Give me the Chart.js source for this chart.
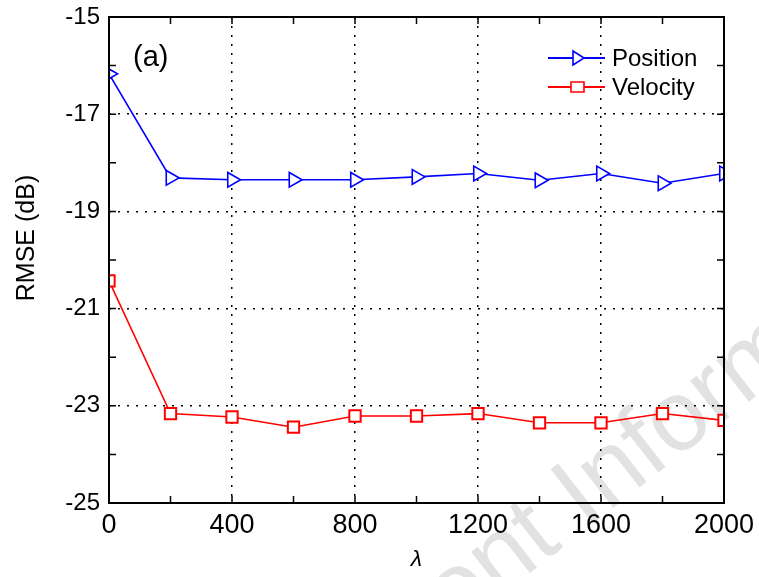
<!DOCTYPE html>
<html>
<head>
<meta charset="utf-8">
<script src="https://cdn.jsdelivr.net/npm/chart.js@4"></script>
<style>
  html, body { margin: 0; padding: 0; background: #fff; }
  #wrap { width: 759px; height: 577px; position: relative; }
</style>
</head>
<body>
<div id="wrap"><canvas id="rmse-chart"></canvas></div>
<script>
const lambdas = [0, 200, 400, 600, 800, 1000, 1200, 1400, 1600, 1800, 2000];
const positionRmse = [-16.17, -18.31, -18.35, -18.35, -18.35, -18.29, -18.22, -18.36, -18.22, -18.42, -18.22];
const velocityRmse = [-20.43, -23.16, -23.23, -23.44, -23.21, -23.21, -23.16, -23.35, -23.35, -23.16, -23.30];
const xTicks = [0, 400, 800, 1200, 1600, 2000];
const yTicks = [-25, -23, -21, -19, -17, -15];
const seriesNames = ["Position", "Velocity"];

const FONT = "'Liberation Sans', Arial, sans-serif";

// faint watermark behind everything
const watermarkPlugin = {
  id: "watermark",
  beforeDraw(chart) {
    const ctx = chart.ctx;
    ctx.save();
    ctx.translate(380, 690);
    ctx.rotate(-38 * Math.PI / 180);
    ctx.font = "100px " + FONT;
    ctx.fillStyle = "#e2e2e2";
    ctx.fillText("Front Inform", 0, 0);
    ctx.restore();
  }
};

// box frame, inward ticks (major + minor), axis title, legend and panel tag
const framePlugin = {
  id: "frame",
  afterDraw(chart) {
    const { ctx, chartArea: a, scales: { x, y } } = chart;
    ctx.save();
    ctx.strokeStyle = "#000";
    ctx.lineWidth = 2;
    ctx.strokeRect(a.left, a.top, a.right - a.left, a.bottom - a.top);

    ctx.lineWidth = 1.5;
    ctx.beginPath();
    for (let v = 0; v <= 2000; v += 200) {
      const px = x.getPixelForValue(v);
      ctx.moveTo(px, a.bottom); ctx.lineTo(px, a.bottom - 7);
      ctx.moveTo(px, a.top); ctx.lineTo(px, a.top + 7);
    }
    for (let v = -25; v <= -15; v += 1) {
      const py = y.getPixelForValue(v);
      ctx.moveTo(a.left, py); ctx.lineTo(a.left + 7, py);
      ctx.moveTo(a.right, py); ctx.lineTo(a.right - 7, py);
    }
    ctx.stroke();

    ctx.fillStyle = "#000";
    ctx.textBaseline = "middle";

    // y axis title
    ctx.save();
    ctx.translate(27, 238);
    ctx.rotate(-Math.PI / 2);
    ctx.textAlign = "center";
    ctx.font = "25px " + FONT;
    ctx.fillText("RMSE (dB)", 0, 0);
    ctx.restore();

    // panel tag
    ctx.textAlign = "left";
    ctx.font = "29px " + FONT;
    ctx.fillText("(a)", 133, 58);

    // legend
    const ds = chart.data.datasets;
    const rows = [58, 87];
    ctx.font = "24px " + FONT;
    rows.forEach((ly, i) => {
      const d = ds[i];
      ctx.strokeStyle = d.borderColor;
      ctx.lineWidth = 2;
      ctx.beginPath();
      ctx.moveTo(548, ly); ctx.lineTo(605, ly);
      ctx.stroke();
      ctx.lineWidth = 1.6;
      ctx.beginPath();
      ctx.fillStyle = "#fff";
      if (i === 0) {
        ctx.moveTo(573, ly - 7); ctx.lineTo(584, ly); ctx.lineTo(573, ly + 7); ctx.closePath();
        ctx.fill();
      } else {
        ctx.fillRect(571, ly - 5, 13, 10);
        ctx.rect(571, ly - 5, 13, 10);
      }
      ctx.stroke();
      ctx.fillStyle = "#000";
      ctx.fillText(seriesNames[i], 612, ly + 1);
    });
    ctx.restore();
  }
};

new Chart(document.getElementById("rmse-chart"), {
  type: "line",
  data: {
    datasets: [
      {
        label: seriesNames[0],
        data: lambdas.map((l, i) => ({ x: l, y: positionRmse[i] })),
        borderColor: "#0000ff",
        backgroundColor: "#fff",
        borderWidth: 1.6,
        pointStyle: "triangle",
        rotation: 90,
        pointRadius: 8.5,
        pointBorderWidth: 1.6,
        tension: 0
      },
      {
        label: seriesNames[1],
        data: lambdas.map((l, i) => ({ x: l, y: velocityRmse[i] })),
        borderColor: "#ff0000",
        backgroundColor: "#fff",
        borderWidth: 1.6,
        pointStyle: "rect",
        pointRadius: 8,
        pointBorderWidth: 2,
        tension: 0
      }
    ]
  },
  options: {
    responsive: true,
    maintainAspectRatio: false,
    animation: false,
    layout: { padding: { top: 17, right: 35, left: 0, bottom: 0 } },
    plugins: { legend: { display: false }, tooltip: { enabled: false } },
    scales: {
      x: {
        type: "linear",
        min: 0, max: 2000,
        afterBuildTicks: s => { s.ticks = xTicks.map(v => ({ value: v })); },
        afterFit: s => { s.height = 74; s.paddingLeft = 0; s.paddingRight = 0; },
        ticks: {
          color: "#000", font: { size: 27, family: FONT }, padding: 6, maxRotation: 0,
          callback: v => String(v)
        },
        grid: { color: "#000", lineWidth: 1.5, drawTicks: false },
        border: { display: false, dash: [2, 7] },
        title: { display: true, text: "λ", color: "#000", font: { size: 23, family: FONT, style: "italic" }, padding: { top: 0 } }
      },
      y: {
        min: -25, max: -15,
        afterBuildTicks: s => { s.ticks = yTicks.map(v => ({ value: v })); },
        afterFit: s => { s.width = 109; s.paddingTop = 0; s.paddingBottom = 0; },
        ticks: { color: "#000", font: { size: 24, family: FONT }, padding: 9 },
        grid: { color: "#000", lineWidth: 1.5, drawTicks: false },
        border: { display: false, dash: [2, 7] }
      }
    }
  },
  plugins: [watermarkPlugin, framePlugin]
});
</script>
</body>
</html>
